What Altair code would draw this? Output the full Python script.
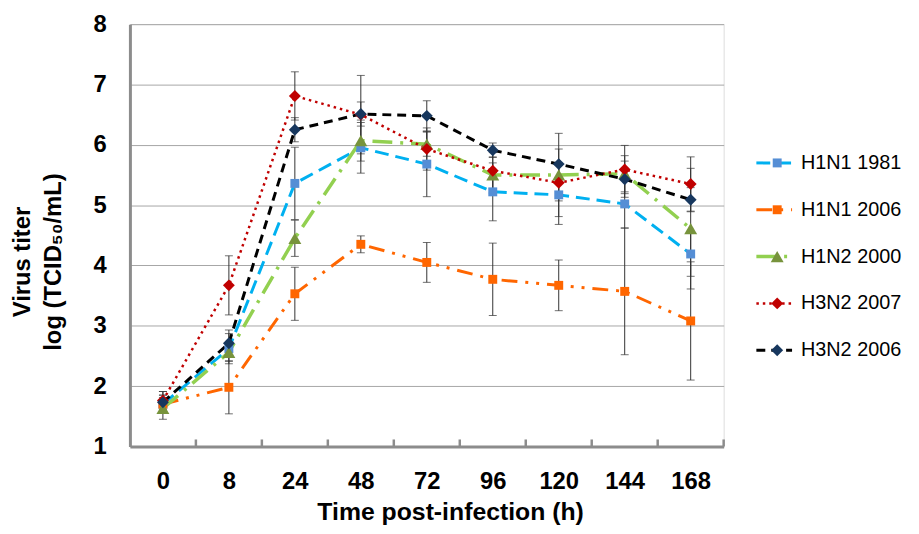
import altair as alt
import pandas as pd

# ---- data ----
times = ["0", "8", "24", "48", "72", "96", "120", "144", "168"]
series = ["H1N1 1981", "H1N1 2006", "H1N2 2000", "H3N2 2007", "H3N2 2006"]

h1n1_1981 = [1.70, 2.62, 5.36, 5.95, 5.68, 5.22, 5.17, 5.02, 4.19]
h1n1_2006 = [1.70, 1.98, 3.53, 4.35, 4.05, 3.77, 3.67, 3.57, 3.08]
h1n2_2000 = [1.63, 2.56, 4.45, 6.07, 6.01, 5.50, 5.50, 5.52, 4.61]
h3n2_2007 = [1.76, 3.67, 6.81, 6.50, 5.93, 5.57, 5.37, 5.59, 5.35]
h3n2_2006 = [1.73, 2.71, 6.25, 6.51, 6.48, 5.91, 5.68, 5.43, 5.09]

err_h1n1_1981 = [0.15, 0.25, 0.60, 0.42, 0.54, 0.48, 0.49, 0.40, 0.37]
err_h1n1_2006 = [0.15, 0.44, 0.44, 0.14, 0.33, 0.60, 0.42, 1.05, 0.98]
err_h1n2_2000 = [0.18, 0.15, 0.30, 0.34, 0.20, 0.30, 0.69, 0.30, 1.00]
err_h3n2_2007 = [0.15, 0.49, 0.40, 0.65, 0.35, 0.30, 0.30, 0.40, 0.45]
err_h3n2_2006 = [0.18, 0.22, 0.20, 0.20, 0.25, 0.12, 0.25, 0.30, 0.20]

values = [h1n1_1981, h1n1_2006, h1n2_2000, h3n2_2007, h3n2_2006]
errors = [err_h1n1_1981, err_h1n1_2006, err_h1n2_2000, err_h3n2_2007, err_h3n2_2006]

y_title = ["Virus titer", "log (TCID\u2085\u2080/mL)"]
x_title = "Time post-infection (h)"

# ---- styles ----
line_colors = ["#00B0F0", "#FF6600", "#92D050", "#C00000", "#000000"]
marker_colors = ["#558ED5", "#FF6600", "#77933C", "#C00000", "#17375E"]
dashes = [[14, 7], [16, 8, 3, 8, 3, 8], [20, 8, 3, 8], [2.5, 4], [9, 6]]
widths = [3, 3, 3.5, 2.5, 3]
shapes = ["square", "square", "triangle-up", "diamond", "diamond"]
sizes = [81, 81, 170, 144, 144]

FONT = "Liberation Sans"
W, H = 599, 426
GRAY = "#8C8C8C"

rows = []
for s, vals, errs in zip(series, values, errors):
    for i, (t, v, e) in enumerate(zip(times, vals, errs)):
        rows.append({"series": s, "idx": i, "time": t, "value": v,
                     "lo": v - e, "hi": v + e})
df = pd.DataFrame(rows)

bounds = pd.DataFrame({"b": [i + 0.5 for i in range(len(times))]})
leg = pd.DataFrame({"series": series})

label_expr = "[" + ",".join("'%s'" % t for t in times) + "][datum.value]"

x_axis = alt.Axis(
    values=list(range(len(times))), labelExpr=label_expr, ticks=False, tickSize=0,
    grid=False, domainColor=GRAY, domainWidth=3, labelFont=FONT, labelFontSize=24,
    labelFontWeight="bold", labelColor="black", labelPadding=23,
    title=x_title, titleFont=FONT, titleFontSize=25,
    titleFontWeight="bold", titleColor="black", titleX=323, titleY=74,
    titleAlign="center", titleBaseline="alphabetic",
)
y_axis = alt.Axis(
    values=list(range(1, 9)), ticks=False, tickSize=0, grid=True, gridColor="#A6A6A6",
    gridWidth=1, domainColor=GRAY, domainWidth=3, labelFont=FONT, labelFontSize=24,
    labelFontWeight="bold", labelColor="black", labelPadding=24, title=None,
)
x_scale = alt.Scale(domain=[-0.5, len(times) - 0.5], nice=False, zero=False)
y_scale = alt.Scale(domain=[1, 8], nice=False, zero=False)

X = alt.X("idx:Q", scale=x_scale, axis=x_axis)

stroke = alt.Stroke("series:N", scale=alt.Scale(domain=series, range=line_colors), legend=None)
dash = alt.StrokeDash("series:N", scale=alt.Scale(domain=series, range=dashes), legend=None)
swidth = alt.StrokeWidth("series:N", scale=alt.Scale(type="ordinal", domain=series, range=widths),
                         legend=None)
fill = alt.Fill("series:N", scale=alt.Scale(domain=series, range=marker_colors), legend=None)
shape = alt.Shape("series:N", scale=alt.Scale(domain=series, range=shapes), legend=None)
size = alt.Size("series:N", scale=alt.Scale(type="ordinal", domain=series, range=sizes),
                legend=None)

base = alt.Chart(df)

err_rule = base.mark_rule(color="#333333", strokeWidth=1).encode(
    x=X, y=alt.Y("lo:Q", scale=y_scale, axis=y_axis), y2="hi:Q")
err_lo = base.mark_tick(color="#333333", orient="horizontal", size=8, thickness=1).encode(
    x=X, y=alt.Y("lo:Q", scale=y_scale, axis=y_axis))
err_hi = base.mark_tick(color="#333333", orient="horizontal", size=8, thickness=1).encode(
    x=X, y=alt.Y("hi:Q", scale=y_scale, axis=y_axis))

lines = base.mark_line().encode(
    x=X, y=alt.Y("value:Q", scale=y_scale, axis=y_axis),
    stroke=stroke, strokeDash=dash, strokeWidth=swidth, detail="series:N")

points = base.mark_point(filled=True, opacity=1, strokeWidth=0).encode(
    x=X, y=alt.Y("value:Q", scale=y_scale, axis=y_axis),
    fill=fill, shape=shape, size=size)

inner_ticks = alt.Chart(bounds).mark_rule(color=GRAY, strokeWidth=2.5).encode(
    x=alt.X("b:Q", scale=x_scale, axis=x_axis), y=alt.value(H), y2=alt.value(H - 7))

# y-axis title, two lines rotated
yt1 = alt.Chart(pd.DataFrame({"t": [y_title[0]]})).mark_text(
    angle=270, align="center", baseline="middle", font=FONT, fontSize=24,
    fontWeight="bold", color="black").encode(
    text="t:N", x=alt.value(-108), y=alt.value(240))
yt2 = alt.Chart(pd.DataFrame({"t": [y_title[1]]})).mark_text(
    angle=270, align="center", baseline="middle", font=FONT, fontSize=24,
    fontWeight="bold", color="black").encode(
    text="t:N", x=alt.value(-77), y=alt.value(240))

main = alt.layer(err_rule, err_lo, err_hi, lines, points, inner_ticks, yt1, yt2)

leg_y = alt.Y("series:N", scale=alt.Scale(type="point", domain=series, range=[140, 329], padding=0),
              axis=None)
leg_base = alt.Chart(leg)
leg_line = leg_base.mark_rule().encode(
    x=alt.value(W + 33), x2=alt.value(W + 69), y=leg_y,
    stroke=stroke, strokeDash=dash, strokeWidth=swidth)
leg_pt = leg_base.mark_point(filled=True, opacity=1, strokeWidth=0).encode(
    x=alt.value(W + 54), y=leg_y, fill=fill, shape=shape, size=size)
leg_text = leg_base.mark_text(align="left", baseline="middle", font=FONT, fontSize=20,
                              color="black").encode(
    x=alt.value(W + 78), y=leg_y, text="series:N")
legend = alt.layer(leg_line, leg_pt, leg_text)

chart = alt.layer(main, legend).resolve_scale(y="independent").properties(
    width=W, height=H,
    autosize=alt.AutoSizeParams(type="none"),
    padding={"left": 123, "top": 14, "right": 189, "bottom": 78},
).configure_view(stroke=None).configure(background="white")

chart.save("out.html", embed_options={"renderer": "svg", "actions": False})
